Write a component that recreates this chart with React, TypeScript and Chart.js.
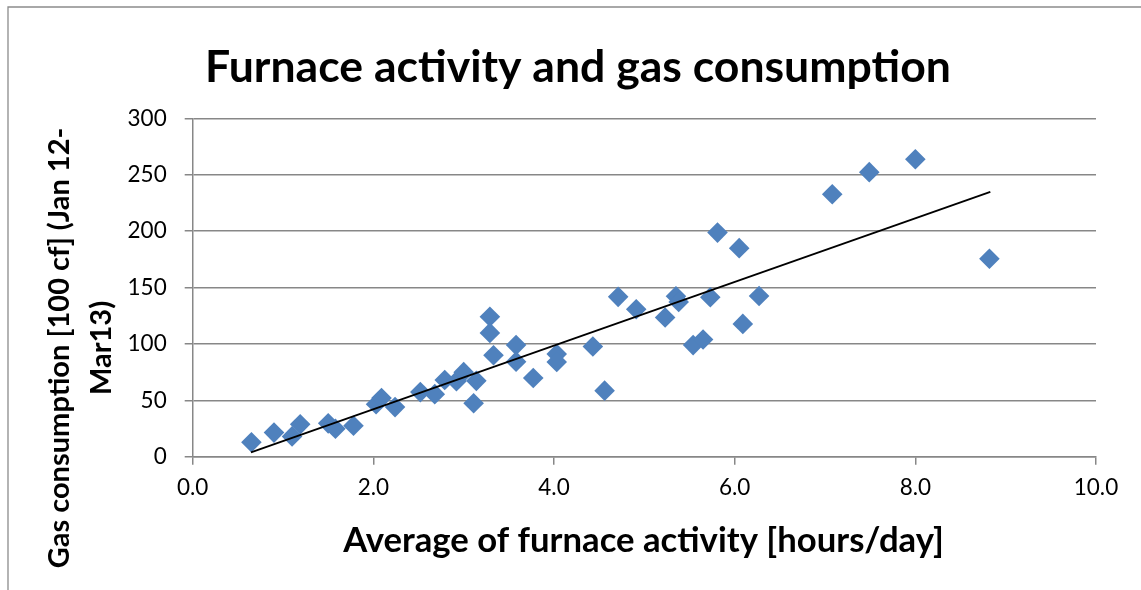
import React, { useEffect, useRef } from "react";
import { Chart, registerables } from "chart.js";

Chart.register(...registerables);

// ---- Data ----
const furnaceHours = [
  0.65, 0.9, 1.1, 1.19, 1.5, 1.58, 1.78, 2.03, 2.09, 2.24,
  2.52, 2.68, 2.79, 2.92, 3.0, 3.14, 3.11, 3.29, 3.29, 3.33,
  3.58, 3.58, 3.77, 4.03, 4.03, 4.43, 4.56, 4.71, 4.91, 5.23,
  5.35, 5.38, 5.54, 5.65, 5.73, 5.81, 6.05, 6.09, 6.27, 7.08,
  7.49, 8.0, 8.82,
];
const gasUse = [
  12.8, 21.4, 18, 28.7, 29.6, 24.8, 27.5, 46.5, 52, 44,
  57.3, 55.5, 68, 67, 75, 67.3, 47.4, 124.2, 109.8, 90,
  99, 84.3, 69.8, 91, 84, 97.8, 58.6, 141.8, 130.8, 123.5,
  142.3, 137.3, 99, 104, 141.5, 198.8, 185, 117.8, 142.5, 232.8,
  252.4, 263.8, 175.6,
];
// Linear trendline endpoints (as drawn in the reference)
const trendHours = [0.645, 8.83];
const trendGas = [3.9, 235];

const xTickValues = [0, 2, 4, 6, 8, 10];
const yTickValues = [0, 50, 100, 150, 200, 250, 300];

const chartTitle = "Furnace activity and gas consumption";
const xAxisTitle = "Average of furnace activity [hours/day]";
const yAxisTitleLines = ["Gas consumption [100 cf] (Jan 12-", "Mar13)"];

const FONT = "Lato";
const GRID = "#878787";

function fitSize(ctx: CanvasRenderingContext2D, text: string, weight: string, target: number) {
  ctx.font = `${weight} 100px ${FONT}`;
  const w = ctx.measureText(text).width;
  return (100 * target) / w;
}

const textPlugin = {
  id: "textsAndFrame",
  afterDraw(chart: any) {
    const ctx: CanvasRenderingContext2D = chart.ctx;
    ctx.save();
    // outer chart frame (cropped at right/bottom)
    ctx.strokeStyle = "#8c8c8c";
    ctx.lineWidth = 1.3;
    ctx.beginPath();
    ctx.moveTo(8, 620);
    ctx.lineTo(8, 7);
    ctx.lineTo(1160, 7);
    ctx.stroke();

    ctx.fillStyle = "#000";
    ctx.textAlign = "center";
    ctx.textBaseline = "alphabetic";

    let s = fitSize(ctx, chartTitle, "bold", 746);
    ctx.font = `bold ${s}px ${FONT}`;
    ctx.fillText(chartTitle, 578, 81.5);

    s = fitSize(ctx, xAxisTitle, "bold", 601);
    ctx.font = `bold ${s}px ${FONT}`;
    ctx.fillText(xAxisTitle, 643.5, 551.5);

    s = fitSize(ctx, yAxisTitleLines[0], "bold", 441);
    ctx.font = `bold ${s}px ${FONT}`;
    ctx.translate(0, 348);
    ctx.rotate(-Math.PI / 2);
    ctx.fillText(yAxisTitleLines[0], 0, 68.5);
    ctx.fillText(yAxisTitleLines[1], 0, 111);
    ctx.restore();
  },
};

export default function App() {
  const ref = useRef<HTMLCanvasElement>(null);

  useEffect(() => {
    const points = furnaceHours.map((x, i) => ({ x, y: gasUse[i] }));
    const trend = trendHours.map((x, i) => ({ x, y: trendGas[i] }));
    const tickFont = { family: FONT, size: 22.5 };

    const chart = new Chart(ref.current!, {
      type: "scatter",
      data: {
        datasets: [
          {
            type: "line",
            label: "Trend",
            data: trend,
            borderColor: "#000",
            borderWidth: 1.8,
            pointRadius: 0,
            fill: false,
            order: 0,
          } as any,
          {
            type: "scatter",
            label: "Gas",
            data: points,
            pointStyle: "rectRot",
            pointRadius: 10.3,
            backgroundColor: "#4f81bd",
            borderColor: "#4f81bd",
            borderWidth: 0,
            order: 1,
          } as any,
        ],
      },
      options: {
        responsive: false,
        animation: false,
        layout: { padding: { left: 0, top: 118.5, right: 45, bottom: 0 } },
        plugins: { legend: { display: false }, tooltip: { enabled: false }, title: { display: false } },
        scales: {
          x: {
            type: "linear",
            min: 0,
            max: 10,
            afterBuildTicks: (scale: any) => {
              scale.ticks = xTickValues.map((v) => ({ value: v }));
            },
            ticks: {
              font: tickFont,
              color: "#000",
              padding: 10,
              maxRotation: 0,
              autoSkip: false,
              callback: (v: any) => Number(v).toFixed(1),
            },
            grid: { drawOnChartArea: false, drawTicks: true, tickLength: 8, color: GRID, lineWidth: 1.5 },
            border: { display: true, color: GRID, width: 1.5 },
            afterFit: (scale: any) => {
              scale.height = 590 - 456.7;
            },
          },
          y: {
            type: "linear",
            min: 0,
            max: 300,
            afterBuildTicks: (scale: any) => {
              scale.ticks = yTickValues.map((v) => ({ value: v }));
            },
            ticks: { font: tickFont, color: "#000", padding: 18, autoSkip: false },
            grid: { drawTicks: true, tickLength: 8, color: GRID, lineWidth: 1.5 },
            border: { display: true, color: GRID, width: 1.5 },
            afterFit: (scale: any) => {
              scale.width = 192.7;
            },
          },
        },
      } as any,
      plugins: [textPlugin],
    });
    return () => chart.destroy();
  }, []);

  return (
    <div style={{ position: "fixed", left: 0, top: 0, width: 1141, height: 590, background: "#fff" }}>
      <canvas ref={ref} width={1141} height={590} style={{ display: "block", width: 1141, height: 590 }} />
    </div>
  );
}
